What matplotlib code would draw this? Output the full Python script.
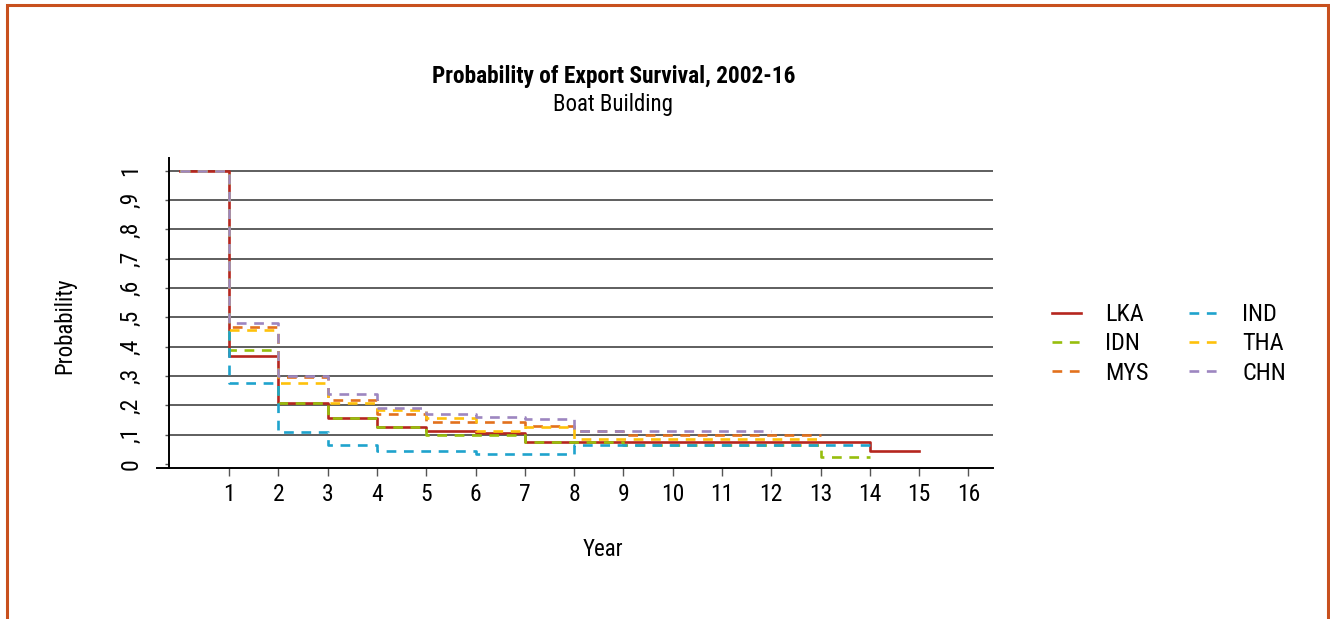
import numpy as np
import matplotlib
matplotlib.use("Agg")
import matplotlib.pyplot as plt
from matplotlib.patches import Rectangle

plt.rcParams['font.family'] = ['Liberation Sans Narrow', 'Roboto Condensed', 'Liberation Sans', 'DejaVu Sans']
plt.rcParams['lines.scale_dashes'] = False

# survival probability per year interval, starting at year 0
countries = ['LKA', 'IDN', 'MYS', 'IND', 'THA', 'CHN']
lka = [1, .368, .21, .159, .125, .114, .105, .076, .076, .076, .076, .076, .076, .076, .045]
idn = [1, .389, .21, .159, .125, .098, .100, .074, .074, .064, .064, .064, .064, .024]
mys = [1, .466, .298, .218, .170, .143, .143, .130, .112, .098, .098, .098, .098]
ind = [1, .277, .111, .065, .045, .045, .036, .036, .064, .064, .064, .064, .064, .064]
tha = [1, .457, .277, .210, .186, .158, .114, .126, .087, .087, .087, .087, .087]
chn = [1, .480, .301, .240, .190, .170, .161, .153, .114, .114, .114, .114]
series = [lka, idn, mys, ind, tha, chn]
colors = ['#B5261E', '#97BE0D', '#E2711D', '#1FA3CD', '#FEC10B', '#9D86C0']

xticks = list(range(1, 17))
yticks = [0, .1, .2, .3, .4, .5, .6, .7, .8, .9, 1]
ytick_labels = ['0', ',1', ',2', ',3', ',4', ',5', ',6', ',7', ',8', ',9', '1']

fig = plt.figure(figsize=(13.3, 6.19), dpi=100)
W, H = 1330, 619
ax = fig.add_axes([169 / W, 1 - 468 / H, (993 - 169) / W, (468 - 158) / H])

for name, vals, c in zip(countries, series, colors):
    x = np.arange(len(vals) + 1)
    y = list(vals) + [vals[-1]]
    if name == 'LKA':
        ax.step(x, y, where='post', color=c, lw=1.9, label=name)
    else:
        ax.step(x, y, where='post', color=c, lw=1.9, dashes=(7, 5.5), label=name)

ax.set_xlim(-0.22, 16.5)
ax.set_ylim(-0.013, 1.043)
ax.set_xticks(xticks)
ax.set_xticklabels([str(t) for t in xticks], fontsize=17)
ax.set_yticks(yticks)
ax.set_yticklabels(ytick_labels, fontsize=17, rotation=90, va='center')
ax.tick_params(axis='x', length=6, width=1, color='#555555', pad=5)
ax.tick_params(axis='y', length=3, width=1, color='#555555', pad=16)

ax.grid(axis='y', color='#333333', lw=1.1)
ax.get_ygridlines()[0].set_visible(False)
ax.set_axisbelow(True)
for s in ['top', 'right']:
    ax.spines[s].set_visible(False)
for s in ['left', 'bottom']:
    ax.spines[s].set_linewidth(1.4)
    ax.spines[s].set_color('black')
ax.spines['bottom'].set_bounds(-0.47, 16.5)

fig.text(614 / W, 1 - 77 / H, 'Probability of Export Survival, 2002-16',
         ha='center', va='center', fontsize=16.8, fontweight='bold')
fig.text(613 / W, 1 - 105 / H, 'Boat Building', ha='center', va='center', fontsize=16.5)
fig.text(65 / W, 1 - 326 / H, 'Probability', ha='center', va='center',
         rotation=90, fontsize=16.5)
fig.text(603 / W, 1 - 550 / H, 'Year', ha='center', va='center', fontsize=16.5)

fig.legend(loc='center left', bbox_to_anchor=(1030 / W, 1 - 344 / H), ncol=2,
           frameon=False, fontsize=17.5, handlelength=1.2, handletextpad=1.0,
           columnspacing=1.65, labelspacing=0.25)

fig.patches.append(Rectangle((7 / W, -0.02), (1328 - 7) / W, 1.02 - 5 / H,
                             transform=fig.transFigure, fill=False,
                             edgecolor='#C8501E', lw=2.2))

fig.savefig('out.png', dpi=100)
